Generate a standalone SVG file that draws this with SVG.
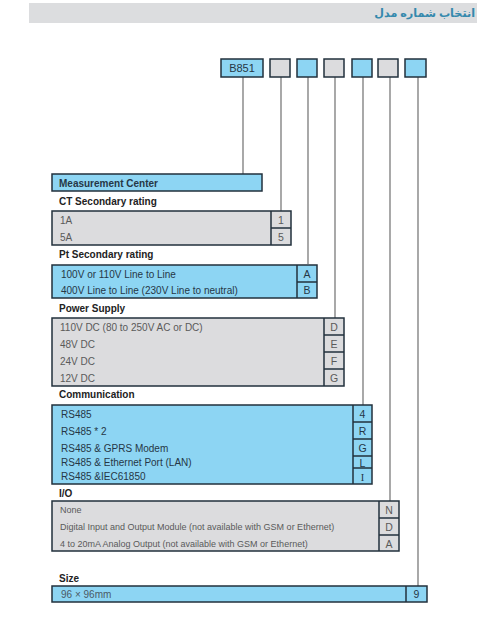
<svg xmlns="http://www.w3.org/2000/svg" width="480" height="622" viewBox="0 0 480 622">
<style>
.b{fill:#8dd5f3;stroke:#22313c;stroke-width:1.5}
.g{fill:#dcdcde;stroke:#22313c;stroke-width:1.5}
.c{fill:none;stroke:#7a7a7a;stroke-width:1.3}
.d{stroke:#22313c;stroke-width:1.5}
.t{font-family:"Liberation Sans",Arial,sans-serif;font-size:10px}
.s{font-size:9px}
.tb{fill:#263746}
.tg{fill:#5a5a5a}
.h{font-family:"Liberation Sans",Arial,sans-serif;font-size:10px;font-weight:bold;fill:#222}
.k{font-family:"Liberation Sans",Arial,sans-serif;font-size:10.5px;text-anchor:middle}
</style>
<rect x="0" y="0" width="480" height="622" fill="#fff"/>
<g id="title">
<rect x="29" y="3" width="448" height="20" fill="#dcdddf"/>
<text x="475" y="17" text-anchor="end" font-family="'Noto Sans','DejaVu Sans',sans-serif" font-size="11.2" font-weight="bold" fill="#3589ad">انتخاب شماره مدل</text>
</g>
<g id="connectors">
<line class="c" x1="243" y1="77" x2="243" y2="174"/>
<line class="c" x1="281" y1="77" x2="281" y2="211"/>
<line class="c" x1="308" y1="77" x2="308" y2="264"/>
<line class="c" x1="335" y1="77" x2="335" y2="318"/>
<line class="c" x1="363" y1="77" x2="363" y2="405"/>
<line class="c" x1="390" y1="77" x2="390" y2="501"/>
<line class="c" x1="418" y1="77" x2="418" y2="586"/>
</g>
<g id="code">
<rect class="b" x="221" y="59" width="42" height="18"/>
<text class="k tb" x="242" y="72" style="font-size:11px">B851</text>
<rect class="g" x="270" y="59" width="20" height="18"/>
<rect class="b" x="297" y="59" width="20" height="18"/>
<rect class="g" x="324" y="59" width="20" height="18"/>
<rect class="b" x="352" y="59" width="20" height="18"/>
<rect class="g" x="378" y="59" width="20" height="18"/>
<rect class="b" x="405" y="59" width="21" height="18"/>
</g>
<g id="measurement">
<rect class="b" x="52" y="174" width="210" height="17"/>
<text class="h" x="59" y="186.5" style="fill:#263746">Measurement Center</text>
</g>
<g id="ct">
<text class="h" x="59" y="205">CT Secondary rating</text>
<rect class="g" x="52" y="211" width="239" height="34"/>
<line class="d" x1="271" y1="211" x2="271" y2="245"/>
<line class="d" x1="271" y1="228" x2="291" y2="228"/>
<text class="t tg" x="60" y="223.5">1A</text>
<text class="t tg" x="60" y="240.5">5A</text>
<text class="k tg" x="281" y="224">1</text>
<text class="k tg" x="281" y="241">5</text>
</g>
<g id="pt">
<text class="h" x="59" y="258">Pt Secondary rating</text>
<rect class="b" x="52" y="265" width="265" height="33"/>
<line class="d" x1="297" y1="265" x2="297" y2="298"/>
<line class="d" x1="297" y1="282" x2="317" y2="282"/>
<text class="t tb" x="61" y="277.5">100V or 110V Line to Line</text>
<text class="t tb" x="61" y="293.5">400V Line to Line (230V Line to neutral)</text>
<text class="k tb" x="307" y="278">A</text>
<text class="k tb" x="307" y="294">B</text>
</g>
<g id="power">
<text class="h" x="59" y="312">Power Supply</text>
<rect class="g" x="52" y="318" width="292" height="68"/>
<line class="d" x1="324" y1="318" x2="324" y2="386"/>
<line class="d" x1="324" y1="335" x2="344" y2="335"/>
<line class="d" x1="324" y1="352" x2="344" y2="352"/>
<line class="d" x1="324" y1="369" x2="344" y2="369"/>
<text class="t tg" x="60" y="330.5">110V DC (80 to 250V AC or DC)</text>
<text class="t tg" x="60" y="347.5">48V DC</text>
<text class="t tg" x="60" y="364.5">24V DC</text>
<text class="t tg" x="60" y="381.5">12V DC</text>
<text class="k tg" x="334" y="331">D</text>
<text class="k tg" x="334" y="348">E</text>
<text class="k tg" x="334" y="365">F</text>
<text class="k tg" x="334" y="382">G</text>
</g>
<g id="comm">
<text class="h" x="59" y="398">Communication</text>
<rect class="b" x="52" y="405" width="320" height="79"/>
<line class="d" x1="353" y1="405" x2="353" y2="484"/>
<line class="d" x1="353" y1="422" x2="372" y2="422"/>
<line class="d" x1="353" y1="439" x2="372" y2="439"/>
<line class="d" x1="353" y1="456" x2="372" y2="456"/>
<line class="d" x1="353" y1="468" x2="372" y2="468"/>
<text class="t tb" x="61" y="417.5">RS485</text>
<text class="t tb" x="61" y="434.5">RS485 * 2</text>
<text class="t tb" x="61" y="451.5">RS485 &amp; GPRS Modem</text>
<text class="t tb" x="61" y="466">RS485 &amp; Ethernet Port (LAN)</text>
<text class="t tb" x="61" y="479.5">RS485 &amp;IEC61850</text>
<text class="k tb" x="362.5" y="418">4</text>
<text class="k tb" x="362.5" y="435">R</text>
<text class="k tb" x="362.5" y="452">G</text>
<text class="k tb" x="362.5" y="466.5">L</text>
<text class="k tb" x="362.5" y="480.5" style="font-family:'Liberation Serif',serif">I</text>
</g>
<g id="io">
<text class="h" x="59" y="497">I/O</text>
<rect class="g" x="52" y="501" width="347" height="50"/>
<line class="d" x1="379" y1="501" x2="379" y2="551"/>
<line class="d" x1="379" y1="518" x2="399" y2="518"/>
<line class="d" x1="379" y1="535" x2="399" y2="535"/>
<text class="t s tg" x="60" y="513">None</text>
<text class="t s tg" x="60" y="530">Digital Input and Output Module (not available with GSM or Ethernet)</text>
<text class="t s tg" x="60" y="547">4 to 20mA Analog Output (not available with GSM or Ethernet)</text>
<text class="k tg" x="389" y="514">N</text>
<text class="k tg" x="389" y="531">D</text>
<text class="k tg" x="389" y="548">A</text>
</g>
<g id="size">
<text class="h" x="59" y="582">Size</text>
<rect class="b" x="52" y="586" width="375" height="16"/>
<line class="d" x1="406" y1="586" x2="406" y2="602"/>
<text class="t tb" x="61" y="597.5" style="fill:#4a5a66">96 × 96mm</text>
<text class="k tb" x="416.5" y="598">9</text>
</g>
</svg>
